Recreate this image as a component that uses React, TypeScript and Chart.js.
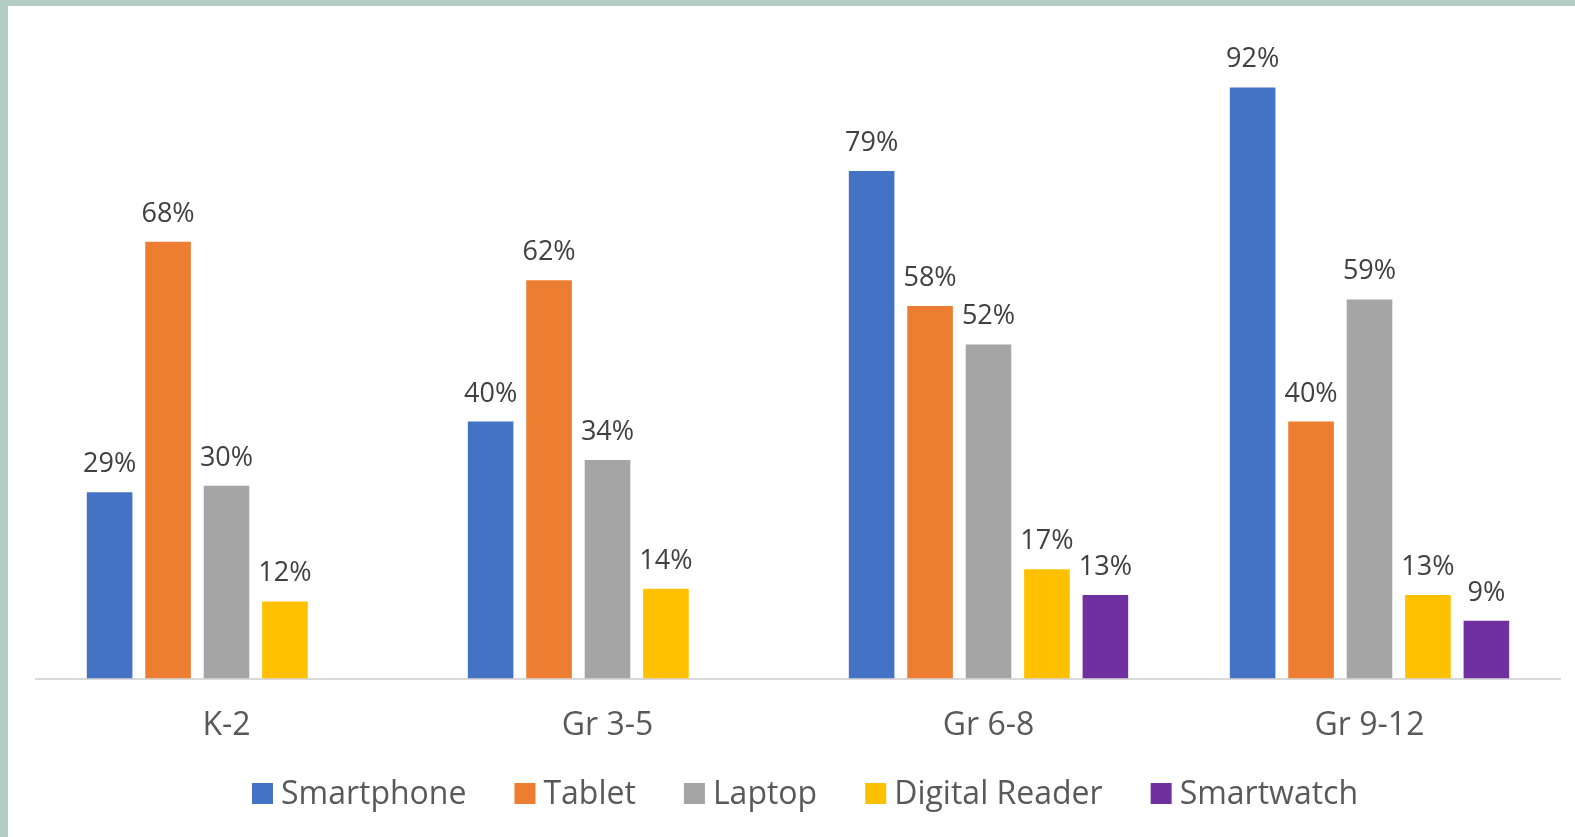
import React, { useEffect, useRef } from "react";
import { Chart, registerables } from "chart.js";

Chart.register(...registerables);

const categories = ["K-2", "Gr 3-5", "Gr 6-8", "Gr 9-12"];
const seriesNames = ["Smartphone", "Tablet", "Laptop", "Digital Reader", "Smartwatch"];
const smartphone = [29, 40, 79, 92];
const tablet = [68, 62, 58, 40];
const laptop = [30, 34, 52, 59];
const digitalReader = [12, 14, 17, 13];
const smartwatch = [null, null, 13, 9];
const seriesColors = ["#4472C4", "#ED7D31", "#A5A5A5", "#FFC000", "#7030A0"];

const FONT = "'Open Sans', 'Noto Sans', sans-serif";

const dataLabelPlugin = {
  id: "dataLabels",
  afterDatasetsDraw(chart: any) {
    const ctx = chart.ctx;
    ctx.save();
    ctx.font = `27px ${FONT}`;
    ctx.fillStyle = "#404040";
    ctx.textAlign = "center";
    ctx.textBaseline = "alphabetic";
    chart.data.datasets.forEach((ds: any, di: number) => {
      const meta = chart.getDatasetMeta(di);
      meta.data.forEach((bar: any, i: number) => {
        const v = ds.data[i];
        if (v === null || v === undefined) return;
        ctx.fillText(`${v}%`, bar.x, bar.y - 20);
      });
    });
    ctx.restore();
  },
};

const legendPlugin = {
  id: "customLegend",
  afterDraw(chart: any) {
    const ctx = chart.ctx;
    ctx.save();
    ctx.font = `32px ${FONT}`;
    const box = 21;
    const textGap = 8;
    const itemGap = 48;
    const items = chart.data.datasets.map((ds: any) => ({
      label: ds.label,
      color: ds.backgroundColor,
      w: box + textGap + ctx.measureText(ds.label).width,
    }));
    const total = items.reduce((s: number, it: any) => s + it.w, 0) + itemGap * (items.length - 1);
    let x = 797 - total / 2;
    const baseline = 798;
    items.forEach((it: any) => {
      ctx.fillStyle = it.color;
      ctx.fillRect(x, baseline - box, box, box);
      ctx.fillStyle = "#595959";
      ctx.textAlign = "left";
      ctx.textBaseline = "alphabetic";
      ctx.fillText(it.label, x + box + textGap, baseline);
      x += it.w + itemGap;
    });
    ctx.restore();
  },
};

export default function App() {
  const ref = useRef<HTMLCanvasElement>(null);

  useEffect(() => {
    document.body.style.margin = "0";
    const values = [smartphone, tablet, laptop, digitalReader, smartwatch];
    const chart = new Chart(ref.current as HTMLCanvasElement, {
      type: "bar",
      data: {
        labels: categories,
        datasets: seriesNames.map((name, i) => ({
          label: name,
          data: values[i] as any,
          backgroundColor: seriesColors[i],
          borderWidth: 0,
          categoryPercentage: 0.767,
          barPercentage: 0.78,
        })),
      },
      options: {
        animation: false,
        responsive: false,
        devicePixelRatio: 1,
        layout: { padding: { left: 28, right: 15, top: 30, bottom: 64 } },
        plugins: {
          legend: { display: false },
          tooltip: { enabled: false },
        },
        scales: {
          y: { display: false, min: 0, max: 100 },
          x: {
            grid: { display: false, drawTicks: false },
            border: { display: true, color: "#d9d9d9", width: 2 },
            ticks: {
              color: "#595959",
              font: { family: FONT, size: 32 },
              padding: 28,
            },
          },
        },
      },
      plugins: [dataLabelPlugin, legendPlugin],
    });
    return () => chart.destroy();
  }, []);

  return (
    <div style={{ position: "relative", width: 1575, height: 837, background: "#b3cdc4", overflow: "hidden" }}>
      <canvas
        ref={ref}
        width={1567}
        height={831}
        style={{ position: "absolute", left: 8, top: 6, width: 1567, height: 831, background: "#ffffff" }}
      />
    </div>
  );
}
